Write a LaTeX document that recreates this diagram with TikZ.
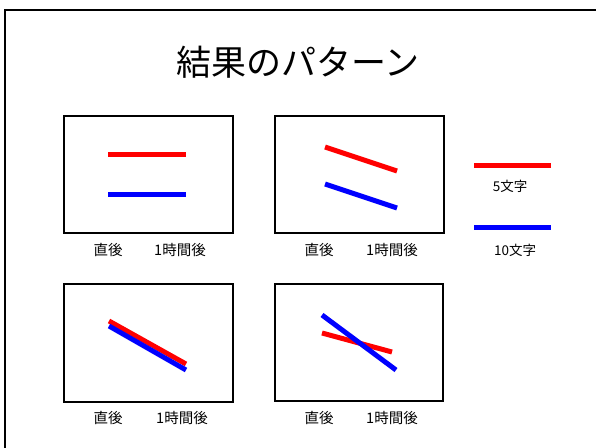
\documentclass[tikz,border=0pt]{standalone}
\usepackage{fontspec}
\setmainfont{Noto Sans CJK JP}
\begin{document}
\begin{tikzpicture}[x=1pt,y=-1pt,
  panel/.style={draw=black,line width=2.5pt},
  redline/.style={draw={rgb,255:red,255;green,0;blue,0},line width=5pt},
  blueline/.style={draw={rgb,255:red,0;green,0;blue,255},line width=5pt},
  lbl/.style={font=\fontsize{14.5}{14.5}\selectfont,inner sep=0pt}]
\useasboundingbox (0,0) rectangle (596,447);
\draw[line width=2pt] (5,460) -- (5,9.5) -- (610,9.5);
\node[font=\fontsize{35}{35}\selectfont,inner sep=0pt] (title) at (298,62) {結果のパターン};
% panel 1
\node[panel,minimum width=169pt,minimum height=117pt,inner sep=0pt] (p1) at (148.5,174.5) {};
\draw[redline] (108,154) -- (186,154);
\draw[blueline] (108,194) -- (186,194);
\node[lbl] (p1a) at (108,250) {直後};
\node[lbl] (p1b) at (180,250) {1時間後};
% panel 2
\node[panel,minimum width=169pt,minimum height=117pt,inner sep=0pt] (p2) at (359.5,174.5) {};
\draw[redline] (325,147) -- (397,171);
\draw[blueline] (325,184) -- (397,208);
\node[lbl] (p2a) at (319,250) {直後};
\node[lbl] (p2b) at (392,250) {1時間後};
% panel 3
\node[panel,minimum width=169pt,minimum height=118pt,inner sep=0pt] (p3) at (148.5,343) {};
\draw[redline] (109,321) -- (186,364);
\draw[blueline] (109,326) -- (186,370);
\node[lbl] (p3a) at (108,418) {直後};
\node[lbl] (p3b) at (182,418) {1時間後};
% panel 4
\node[panel,minimum width=168pt,minimum height=117pt,inner sep=0pt] (p4) at (359,342.5) {};
\draw[redline] (322,333) -- (392,352);
\draw[blueline] (322,315) -- (396,370);
\node[lbl] (p4a) at (319,418) {直後};
\node[lbl] (p4b) at (392,418) {1時間後};
% legend
\draw[redline] (474,165) -- (551,165);
\node[lbl,font=\fontsize{13.5}{13.5}\selectfont] (l5) at (510,186) {5文字};
\draw[blueline] (474,227) -- (551,227);
\node[lbl,font=\fontsize{13.5}{13.5}\selectfont] (l10) at (515,250) {10文字};
\end{tikzpicture}
\end{document}
